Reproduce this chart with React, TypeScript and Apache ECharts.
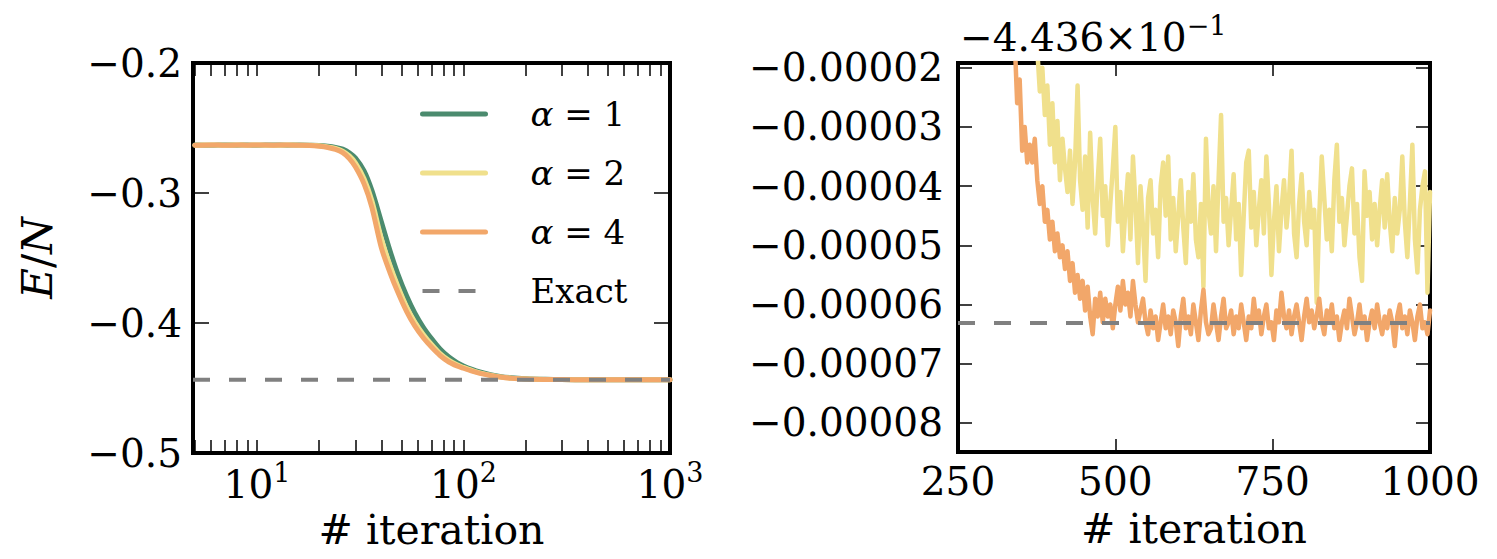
import React, { useEffect, useRef } from "react";
import * as echarts from "echarts";

const FONT = "DejaVu Serif";
const BLACK = "#000000";
const COLOR_A1 = "#4b8b6e";
const COLOR_A2 = "#f0e08c";
const COLOR_A4 = "#f2a76a";
const COLOR_EXACT = "#808080";

const SERIES_NAMES = ["α = 1", "α = 2", "α = 4", "Exact"];

// ---- Left panel (log x axis) ----
const leftIterations = [5, 6, 7, 8, 9, 10, 12, 14, 16, 18, 20, 22, 24, 26, 28, 30, 33, 36, 40, 44, 48, 53, 58, 64, 70, 77, 85, 93, 100, 110, 120, 135, 150, 170, 200, 250, 300, 400, 500, 600, 700, 800, 900, 1000];
const leftAlpha1 = [-0.2631, -0.2633, -0.263, -0.2632, -0.2631, -0.2633, -0.263, -0.2632, -0.2631, -0.2632, -0.2634, -0.264, -0.2649, -0.2663, -0.269, -0.2732, -0.283, -0.298, -0.322, -0.344, -0.362, -0.379, -0.392, -0.4035, -0.412, -0.42, -0.4262, -0.4304, -0.433, -0.4357, -0.4377, -0.4397, -0.4411, -0.4421, -0.4428, -0.4433, -0.4435, -0.4436, -0.4436, -0.4436, -0.4436, -0.4436, -0.4436, -0.4436];
const leftAlpha2 = [-0.2632, -0.2631, -0.2632, -0.263, -0.2632, -0.2631, -0.2633, -0.2631, -0.2632, -0.2633, -0.2637, -0.2645, -0.2657, -0.2678, -0.2715, -0.277, -0.289, -0.306, -0.335, -0.3555, -0.3715, -0.3875, -0.399, -0.409, -0.4165, -0.4235, -0.4288, -0.4322, -0.4342, -0.4365, -0.4384, -0.4402, -0.4415, -0.4424, -0.443, -0.4434, -0.4435, -0.4436, -0.4436, -0.4436, -0.4436, -0.4436, -0.4436, -0.4436];
const leftAlpha4 = [-0.2632, -0.263, -0.2633, -0.2631, -0.2632, -0.263, -0.2632, -0.2631, -0.2633, -0.2635, -0.2641, -0.265, -0.2665, -0.269, -0.2735, -0.28, -0.293, -0.311, -0.342, -0.361, -0.376, -0.391, -0.402, -0.4115, -0.4185, -0.425, -0.43, -0.433, -0.4348, -0.437, -0.4387, -0.4404, -0.4416, -0.4425, -0.4431, -0.4434, -0.4435, -0.4436, -0.4436, -0.4436, -0.4436, -0.4436, -0.4436, -0.4436];
const EXACT_ENERGY = -0.4436631;
const leftXMin = 4.9;
const leftXMax = 1000;
const leftMajorTicks = [10, 100, 1000];
const leftMinorTicks = [5, 6, 7, 8, 9, 20, 30, 40, 50, 60, 70, 80, 90, 200, 300, 400, 500, 600, 700, 800, 900];
const leftYMin = -0.5;
const leftYMax = -0.2;
const leftYInterval = 0.1;

// ---- Right panel (zoom, values in units of 1e-5 relative to the offset) ----
const rightOffset = -0.4436;
const rightScale = 1e-5;
const rightStartIteration = 332;
const rightStepIteration = 4;
const rightAlpha2 = [
  3.0, 2.2, 1.5, 0.9, 0.3, -0.3, -0.9, -1.3, -1.6, -1.5,
  -1.8, -1.7, -2.4, -2.0, -2.8, -2.3, -3.3, -2.6, -3.6, -2.9,
  -3.9, -3.2, -3.7, -4.1, -3.4, -4.3, -3.6, -2.3, -3.9, -4.4,
  -3.5, -4.7, -3.1, -4.2, -4.8, -3.9, -3.2, -4.5, -4.0, -5.0,
  -4.3, -3.7, -3.0, -4.6, -4.1, -5.1, -4.4, -3.8, -4.9, -3.5,
  -4.3, -5.3, -4.0, -4.7, -5.6, -4.2, -3.9, -4.8, -4.4, -5.2,
  -4.0, -3.6, -4.5, -3.5, -4.9, -4.2, -5.1, -4.5, -3.9, -4.7,
  -5.3, -4.1, -4.6, -3.8, -4.9, -5.2, -4.3, -5.7, -3.2, -4.4,
  -4.8, -4.0, -5.1, -3.9, -2.8, -4.6, -4.2, -5.0, -4.4, -3.8,
  -4.9, -4.3, -5.5, -4.5, -3.6, -3.4, -4.7, -4.1, -5.0, -4.4,
  -3.9, -4.8, -3.5, -4.3, -5.5, -4.6, -4.0, -5.1, -4.4, -3.9,
  -4.7, -4.2, -3.4, -4.8, -5.2, -4.3, -3.8, -4.6, -5.0, -4.1,
  -4.7, -4.4, -5.97, -4.5, -3.5, -4.2, -4.9, -4.4, -5.1, -3.9,
  -3.3, -4.6, -4.2, -5.0, -4.5, -4.0, -3.7, -4.8, -4.3, -5.2,
  -5.6, -3.75, -4.5, -4.1, -4.9, -4.3, -5.0, -4.4, -3.9, -4.7,
  -3.8, -4.6, -5.1, -4.2, -4.8, -4.4, -3.5, -4.6, -5.2, -4.3,
  -3.3, -4.9, -5.46, -4.4, -4.0, -3.75, -5.8, -4.1,
];
const rightAlpha4 = [
  1.5, 0.2, -1.5, -2.6, -2.2, -3.4, -3.0, -3.6, -3.3, -3.6,
  -3.2, -3.9, -4.3, -4.0, -4.6, -4.4, -4.9, -4.6, -5.1, -4.8,
  -5.2, -5.0, -5.4, -5.1, -5.6, -5.3, -5.8, -5.5, -5.9, -5.6,
  -6.1, -5.7, -6.2, -6.5, -5.9, -6.2, -5.8, -6.3, -5.9, -6.2,
  -6.0, -6.4, -6.0, -5.7, -6.1, -5.6, -6.0, -5.8, -6.2, -5.6,
  -6.0, -6.3, -6.1, -5.9, -6.3, -6.5, -6.1, -6.4, -6.2, -6.6,
  -6.3, -6.0, -6.4, -6.2, -6.5, -6.1, -6.3, -6.7, -6.2, -5.9,
  -6.4, -6.2, -6.5, -6.0, -6.3, -6.6, -6.1, -5.75, -6.3, -6.5,
  -6.4, -6.0, -6.3, -6.6, -6.2, -5.9, -6.4, -6.3, -6.1, -6.5,
  -6.2, -6.4, -6.0, -6.3, -6.6, -6.2, -6.4, -5.9, -6.3, -6.1,
  -6.5, -6.2, -6.0, -6.4, -6.3, -6.6, -6.1, -6.3, -5.8, -6.2,
  -6.4, -6.1, -6.5, -6.2, -6.0, -6.3, -6.6, -6.2, -5.9, -6.3,
  -6.1, -6.4, -6.2, -5.9, -6.3, -6.5, -6.1, -6.3, -6.0, -6.4,
  -6.2, -6.6, -6.3, -6.1, -6.4, -5.9, -6.2, -6.5, -6.3, -6.0,
  -6.4, -6.2, -6.6, -6.3, -6.1, -6.4, -6.0, -6.3, -6.5, -6.2,
  -6.4, -6.1, -6.3, -6.7, -6.2, -6.0, -6.4, -6.2, -6.5, -6.1,
  -6.3, -6.6, -6.2, -6.0, -6.4, -6.3, -6.5, -6.1,
];
const rightXMin = 250;
const rightXMax = 1000;
const rightXInterval = 250;
const rightYMin = -8.49;
const rightYMax = -1.92;
const rightYTicks = [-8, -7, -6, -5, -4, -3, -2];

const MINUS = "\u2212";

export default function App() {
  const ref = useRef<HTMLDivElement>(null);

  useEffect(() => {
    if (!ref.current) return;
    const chart = echarts.init(ref.current, null, { renderer: "svg" });

    const logTicks = [...leftMinorTicks, ...leftMajorTicks].map((v) => Math.log10(v));
    const lxMin = Math.log10(leftXMin);
    const lxMax = Math.log10(leftXMax);
    const rightExact = (EXACT_ENERGY - rightOffset) / rightScale;

    const LABEL_SIZE = 39;
    const SUP_SIZE = 27;
    const tickStyle = { color: BLACK, width: 1.5 };
    const labelBase = { color: BLACK, fontFamily: FONT, fontSize: LABEL_SIZE, fontWeight: 200 };
    const supRich = {
      b: { fontFamily: FONT, fontSize: LABEL_SIZE, lineHeight: 50, color: BLACK },
      s: { fontFamily: FONT, fontSize: SUP_SIZE, lineHeight: 28, verticalAlign: "top", color: BLACK },
    };
    const nameStyle = { color: BLACK, fontFamily: FONT, fontSize: 41, lineHeight: 42 };

    const lineSeries = (name: string, xi: number, data: number[][], color: string, width: number, smooth: number | boolean) => ({
      name,
      type: "line",
      xAxisIndex: xi,
      yAxisIndex: xi,
      data,
      symbol: "none",
      smooth,
      clip: true,
      lineStyle: { color, width, cap: "round", join: "round" },
      itemStyle: { color },
      emphasis: { disabled: true },
    });

    const exactSeries = (xi: number, data: number[][]) => ({
      name: "Exact",
      type: "line",
      xAxisIndex: xi,
      yAxisIndex: xi,
      data,
      symbol: "none",
      clip: true,
      lineStyle: { color: COLOR_EXACT, width: 4, type: [17, 19] },
      itemStyle: { color: COLOR_EXACT },
      emphasis: { disabled: true },
      z: 5,
    });

    const rightX = (i: number) => rightStartIteration + i * rightStepIteration;
    const legendColors = [COLOR_A1, COLOR_A2, COLOR_A4, COLOR_EXACT];

    const option: any = {
      animation: false,
      backgroundColor: "#ffffff",
      textStyle: { fontFamily: FONT },
      grid: [
        { left: 193, top: 63, width: 477, height: 390, show: true, borderColor: BLACK, borderWidth: 4, backgroundColor: "transparent", outerBoundsMode: "none" },
        { left: 958, top: 63, width: 472, height: 389, show: true, borderColor: BLACK, borderWidth: 4, backgroundColor: "transparent", outerBoundsMode: "none" },
      ],
      xAxis: [
        {
          type: "value", gridIndex: 0, position: "bottom", min: lxMin, max: lxMax,
          axisLine: { show: false },
          axisTick: { show: true, inside: true, length: 13, lineStyle: tickStyle, customValues: logTicks },
          splitLine: { show: false },
          axisLabel: {
            show: true, margin: 6, customValues: leftMajorTicks.map((v) => Math.log10(v)),
            formatter: (v: number) => `{b|10}{s|${Math.round(v)}}`,
            rich: supRich, ...labelBase,
          },
          name: "# iteration", nameLocation: "middle", nameGap: 56, nameTextStyle: nameStyle,
        },
        {
          type: "value", gridIndex: 0, position: "top", min: lxMin, max: lxMax,
          axisLine: { show: false },
          axisTick: { show: true, inside: true, length: 13, lineStyle: tickStyle, customValues: logTicks },
          splitLine: { show: false },
          axisLabel: { show: false },
        },
        {
          type: "value", gridIndex: 1, position: "bottom", min: rightXMin, max: rightXMax, interval: rightXInterval,
          axisLine: { show: false },
          axisTick: { show: true, inside: true, length: 13, lineStyle: tickStyle },
          splitLine: { show: false },
          axisLabel: { show: true, margin: 10, ...labelBase, formatter: (v: number) => String(v) },
          name: "# iteration", nameLocation: "middle", nameGap: 56, nameTextStyle: nameStyle,
        },
        {
          type: "value", gridIndex: 1, position: "top", min: rightXMin, max: rightXMax, interval: rightXInterval,
          axisLine: { show: false },
          axisTick: { show: true, inside: true, length: 13, lineStyle: tickStyle },
          splitLine: { show: false },
          axisLabel: { show: false },
        },
      ],
      yAxis: [
        {
          type: "value", gridIndex: 0, position: "left", min: leftYMin, max: leftYMax, interval: leftYInterval,
          axisLine: { show: false },
          axisTick: { show: true, inside: true, length: 16, lineStyle: tickStyle },
          splitLine: { show: false },
          axisLabel: { show: true, margin: 11, ...labelBase, formatter: (v: number) => MINUS + Math.abs(v).toFixed(1) },
          name: "{i|E}/{i|N}", nameLocation: "middle", nameGap: 134, nameRotate: 90,
          nameTextStyle: { ...nameStyle, fontSize: 42, lineHeight: 44, rich: { i: { fontFamily: FONT, fontSize: 42, lineHeight: 44, fontStyle: "italic", color: BLACK } } },
        },
        {
          type: "value", gridIndex: 0, position: "right", min: leftYMin, max: leftYMax, interval: leftYInterval,
          axisLine: { show: false },
          axisTick: { show: true, inside: true, length: 16, lineStyle: tickStyle },
          splitLine: { show: false },
          axisLabel: { show: false },
        },
        {
          type: "value", gridIndex: 1, position: "left", min: rightYMin, max: rightYMax,
          axisLine: { show: false },
          axisTick: { show: true, inside: true, length: 14, lineStyle: tickStyle, customValues: rightYTicks },
          splitLine: { show: false },
          axisLabel: { show: true, margin: 15, ...labelBase, customValues: rightYTicks, formatter: (v: number) => MINUS + "0.0000" + Math.round(-v) },
        },
        {
          type: "value", gridIndex: 1, position: "right", min: rightYMin, max: rightYMax,
          axisLine: { show: false },
          axisTick: { show: true, inside: true, length: 14, lineStyle: tickStyle, customValues: rightYTicks },
          splitLine: { show: false },
          axisLabel: { show: false },
        },
      ],
      legend: {
        orient: "vertical",
        left: 420,
        top: 96,
        padding: 0,
        itemWidth: 63,
        itemHeight: 6,
        itemGap: 23,
        selectedMode: false,
        itemStyle: { opacity: 0 },
        data: SERIES_NAMES.map((name, i) => ({
          name,
          itemStyle: { opacity: 0 },
          lineStyle: i === 3
            ? { width: 4, color: legendColors[i], type: [17, 19] }
            : { width: 5, color: legendColors[i], cap: "round" },
        })),
        formatter: (name: string) => (name.startsWith("α") ? "{i|α}" + name.slice(1) : name),
        textStyle: {
          color: BLACK, fontFamily: FONT, fontSize: 34, lineHeight: 36, padding: [0, 0, 0, 40],
          rich: { i: { fontFamily: FONT, fontSize: 34, lineHeight: 36, fontStyle: "italic", color: BLACK } },
        },
      },
      graphic: [
        {
          type: "text",
          x: 960,
          y: 12,
          style: {
            text: "{b|" + MINUS + "4.436×10}{s|" + MINUS + "1}",
            rich: supRich,
            fill: BLACK,
            fontFamily: FONT,
            fontSize: LABEL_SIZE,
          },
        },
      ],
      series: [
        lineSeries(SERIES_NAMES[0], 0, leftIterations.map((it, i) => [Math.log10(it), leftAlpha1[i]]), COLOR_A1, 5, 0.3),
        lineSeries(SERIES_NAMES[1], 0, leftIterations.map((it, i) => [Math.log10(it), leftAlpha2[i]]), COLOR_A2, 5, 0.3),
        lineSeries(SERIES_NAMES[2], 0, leftIterations.map((it, i) => [Math.log10(it), leftAlpha4[i]]), COLOR_A4, 5, 0.3),
        exactSeries(0, [[lxMin, EXACT_ENERGY], [lxMax, EXACT_ENERGY]]),
        lineSeries(SERIES_NAMES[1], 2, rightAlpha2.map((v, i) => [rightX(i), v]), COLOR_A2, 4.5, false),
        lineSeries(SERIES_NAMES[2], 2, rightAlpha4.map((v, i) => [rightX(i), v]), COLOR_A4, 4.5, false),
        exactSeries(2, [[rightXMin, rightExact], [rightXMax, rightExact]]),
      ],
    };

    chart.setOption(option);
    return () => chart.dispose();
  }, []);

  return (
    <div
      ref={ref}
      style={{ position: "absolute", left: 0, top: 0, width: 1497, height: 559, background: "#fff" }}
    />
  );
}
